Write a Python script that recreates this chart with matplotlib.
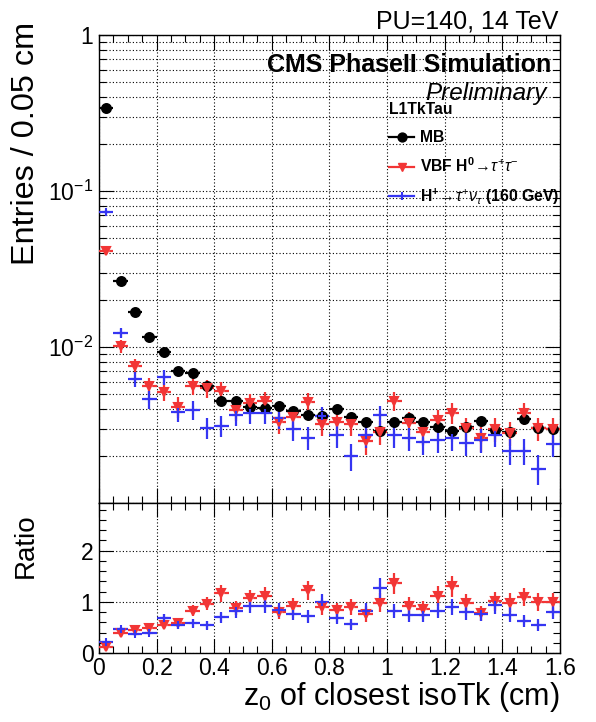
import matplotlib

matplotlib.use("Agg")
import matplotlib.pyplot as plt
import matplotlib.ticker as ticker
import numpy as np
from matplotlib.lines import Line2D

plt.rcParams["font.family"] = ["Liberation Sans", "DejaVu Sans"]
plt.rcParams["mathtext.fontset"] = "custom"
plt.rcParams["mathtext.rm"] = "Liberation Sans"
plt.rcParams["mathtext.it"] = "Liberation Sans:italic"
plt.rcParams["mathtext.bf"] = "Liberation Sans:bold"

# bins of 0.05 cm from 0 to 1.6
BIN_EDGES = np.arange(0, 1.6001, 0.05)

# normalised entries per bin
mb = [0.34, 0.0265, 0.0168, 0.01164, 0.00933, 0.00702, 0.00685, 0.00562,
      0.00451, 0.00452, 0.0041, 0.00406, 0.00416, 0.00389, 0.00365, 0.00361,
      0.00399, 0.00357, 0.00329, 0.0029, 0.00332, 0.00352, 0.00332, 0.00306,
      0.00291, 0.00306, 0.00336, 0.00294, 0.00286, 0.00345, 0.00301, 0.00297]
vbf = [0.0414, 0.0101, 0.00759, 0.00562, 0.00517, 0.00414, 0.00562, 0.00543,
       0.00525, 0.00395, 0.0044, 0.00453, 0.00332, 0.00357, 0.00446, 0.00321,
       0.00332, 0.00321, 0.0025, 0.00286, 0.00453, 0.00326, 0.00286, 0.0034,
       0.00379, 0.00301, 0.0026, 0.00297, 0.00282, 0.00376, 0.00301, 0.00297]
hpm = [0.0737, 0.01235, 0.0062, 0.00462, 0.0064, 0.00385, 0.00395, 0.00304,
       0.00313, 0.00367, 0.00376, 0.00376, 0.00349, 0.00297, 0.00262, 0.00361,
       0.00272, 0.002, 0.00272, 0.00367, 0.00272, 0.0026, 0.00247, 0.00253,
       0.0026, 0.00244, 0.00253, 0.00273, 0.00215, 0.00215, 0.00166, 0.00239]

# approximate number of entries behind each normalised histogram (sets stat errors)
N_MB = 150000
N_VBF = 11000
N_HPM = 13000

RED = "#f23535"
BLUE = "#3535f2"
DASH = (0, (3, 1.6))
GRID = {"color": "black", "linestyle": (0, (1, 2)), "linewidth": 0.8}

centers = 0.5 * (BIN_EDGES[:-1] + BIN_EDGES[1:])
half_w = 0.5 * np.diff(BIN_EDGES)


def stat_err(vals, n):
    v = np.asarray(vals)
    return np.sqrt(v / n)


def draw(ax, y, yerr, color, marker, ms, dashed=False):
    cont = ax.errorbar(centers, y, xerr=half_w, yerr=yerr, fmt=marker, color=color,
                       ms=ms, mew=1.5, elinewidth=1.6, capsize=0, zorder=3)
    if dashed:
        cont[2][0].set_linestyle(DASH)
    return cont


def style_axis(ax, major_len=10.5, minor_len=5.0):
    ax.tick_params(which="both", direction="in", top=True, right=True,
                   width=0.8, labelsize=16.5, pad=4)
    ax.tick_params(which="major", length=major_len)
    ax.tick_params(which="minor", length=minor_len)
    for sp in ax.spines.values():
        sp.set_linewidth(1.0)
    ax.set_axisbelow(True)


fig = plt.figure(figsize=(5.96, 7.22), dpi=100)
ax = fig.add_axes([0.1661, 0.3033, 0.7735, 0.6482])
rax = fig.add_axes([0.1661, 0.0956, 0.7735, 0.2077], sharex=ax)

# --- main panel
mb_err = stat_err(mb, N_MB)
vbf_err = stat_err(vbf, N_VBF)
hpm_err = stat_err(hpm, N_HPM)

draw(ax, mb, mb_err, "black", "o", 6.4)
draw(ax, vbf, vbf_err, RED, "v", 6.3, dashed=True)
draw(ax, hpm, hpm_err, BLUE, "+", 6.0)

ax.set_yscale("log")
ax.set_ylim(1e-3, 1)
ax.set_xlim(0, 1.6)
ax.yaxis.set_major_locator(ticker.LogLocator(base=10, numticks=10))
ax.yaxis.set_minor_locator(ticker.LogLocator(base=10, subs=np.arange(2, 10), numticks=20))
ax.yaxis.set_minor_formatter(ticker.NullFormatter())


def log_label(v, _):
    if abs(v - 1) < 1e-9:
        return "1"
    if v < 0.005:
        return ""
    return r"$10^{%d}$" % round(np.log10(v))


ax.yaxis.set_major_formatter(ticker.FuncFormatter(log_label))
ax.xaxis.set_major_locator(ticker.MultipleLocator(0.2))
ax.xaxis.set_minor_locator(ticker.MultipleLocator(0.05))
ax.grid(True, which="both", axis="y", **GRID)
ax.grid(True, which="major", axis="x", **GRID)
style_axis(ax)
plt.setp(ax.get_xticklabels(), visible=False)

# --- ratio panel
mb_a = np.asarray(mb)
for vals, err, color, marker, ms, dashed in [
    (vbf, vbf_err, RED, "v", 6.3, True),
    (hpm, hpm_err, BLUE, "+", 6.0, False),
]:
    v = np.asarray(vals)
    ratio = v / mb_a
    rerr = ratio * np.sqrt((err / v) ** 2 + (mb_err / mb_a) ** 2)
    draw(rax, ratio, rerr, color, marker, ms, dashed=dashed)

rax.set_ylim(0, 2.93)
rax.yaxis.set_major_locator(ticker.FixedLocator([0, 1, 2]))
rax.yaxis.set_minor_locator(ticker.MultipleLocator(0.2))
rax.xaxis.set_major_formatter(ticker.FuncFormatter(lambda v, _: f"{v:g}"))
rax.grid(True, which="major", **GRID)
style_axis(rax, major_len=10.0, minor_len=5.0)
rax.tick_params(axis="x", pad=3)

# --- titles and labels
fig.text(34 / 596, 1 - 22 / 722, "Entries / 0.05 cm", rotation=90, rotation_mode="anchor",
         ha="right", va="baseline", fontsize=23.3)
fig.text(33 / 596, 1 - 513 / 722, "Ratio", rotation=90, rotation_mode="anchor",
         ha="right", va="baseline", fontsize=20)
fig.text(560 / 596, 1 - 705 / 722, r"z$_{0}$ of closest isoTk (cm)", ha="right",
         va="baseline", fontsize=22)

fig.text(558 / 596, 1 - 28 / 722, "PU=140, 14 TeV", ha="right", va="baseline", fontsize=18)
fig.text(551 / 596, 1 - 72 / 722, "CMS PhaseII Simulation", ha="right", va="baseline",
         fontsize=18, fontweight="bold")
fig.text(547 / 596, 1 - 100 / 722, "Preliminary", ha="right", va="baseline",
         fontsize=17.5, style="italic")

# legend header drawn on its own so its gap to the entries can be set
fig.text(389 / 596, 1 - 109 / 722, "L1TkTau", ha="left", va="center",
         fontsize=11.3, fontweight="bold")

handles = [
    Line2D([], [], color="black", marker="o", ms=6.4, lw=1.6),
    Line2D([], [], color=RED, marker="v", ms=6.3, lw=1.6),
    Line2D([], [], color=BLUE, marker="+", ms=6.0, mew=1.5, lw=1.6),
]
labels = [
    "MB",
    r"VBF H$^{\mathbf{0}}\!\rightarrow\!\tau^{+}\tau^{-}$",
    r"H$^{\mathbf{+}}\!\rightarrow\!\tau^{+}\nu_{\tau}$ (160 GeV)",
]
leg = ax.legend(handles, labels, loc="upper left",
                bbox_to_anchor=(389 / 596, 1 - 130 / 722), bbox_transform=fig.transFigure,
                frameon=False, prop={"weight": "bold", "size": 11.3},
                handlelength=1.6, handletextpad=0.35, labelspacing=0.72,
                borderpad=0, borderaxespad=0)

fig.savefig("out.png", dpi=100)
